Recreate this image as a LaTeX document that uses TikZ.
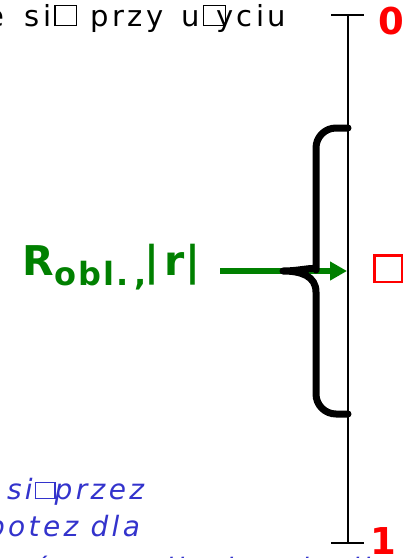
\documentclass[tikz,border=0pt]{standalone}
\usepackage{fontspec}
\setmainfont{DejaVu Sans}
\newfontfamily\spfont[LetterSpace=12]{DejaVu Sans}
\newfontfamily\gfont[LetterSpace=6]{DejaVu Sans}
\usetikzlibrary{arrows.meta}
\definecolor{gr}{RGB}{0,128,0}
\definecolor{bl}{RGB}{51,51,204}
\definecolor{rd}{RGB}{255,0,0}
% missing-glyph box: width, height, rule, advance
\newcommand\mg[4]{\rlap{\vrule width #3 height #2\kern\dimexpr#1-#3-#3\relax\vrule width #3 height #2}\rlap{\vrule width #1 height #2 depth -\dimexpr#2-#3\relax}\rlap{\vrule width #1 height #3}\kern#4\relax}
\tikzset{
  txt/.style={inner sep=0pt,outer sep=0pt},
  toptext/.style={txt,font=\spfont\fontsize{29}{32}\selectfont},
  bluetext/.style={txt,text=bl,font=\spfont\itshape\fontsize{28}{32}\selectfont},
  endlabel/.style={txt,text=rd,font=\bfseries\fontsize{37}{40}\selectfont},
  axisline/.style={line width=1.3pt,black},
  bracepath/.style={line width=7pt,black,line cap=round,line join=round},
  garrow/.style={draw=gr,line width=6pt,-{Triangle[length=17pt,width=18pt]}}
}
\begin{document}
\begin{tikzpicture}[x=1pt,y=-1pt]
\useasboundingbox (0,0) rectangle (409,558);
\clip (0,0) rectangle (409,558);
% top text
\node[toptext,anchor=base west] (top) at (-13,26) {e\hspace{20pt}si\kern3pt\mg{23pt}{21pt}{1.3pt}{15pt}\hspace{21pt}przy\hspace{18pt}u\kern3pt\mg{23pt}{21pt}{1.3pt}{13pt}yciu};
% blue text
\node[bluetext,anchor=base west] (b1) at (7,499) {si\kern2pt\mg{21pt}{17pt}{1.3pt}{20pt}przez};
\node[bluetext,anchor=base east] (b2) at (140,536) {hipotez dla};
\node[bluetext,anchor=base west] (b3) at (-34,578) {wsp\'o\mg{18pt}{17pt}{1.3pt}{18pt}czynnika korelacji};
% axis
\coordinate (a0) at (348,15);
\coordinate (a1) at (348,543);
\coordinate (t0l) at (331,15);
\coordinate (t0r) at (364,15);
\coordinate (t1l) at (331,543);
\coordinate (t1r) at (364,543);
\draw[axisline] (a0) -- (a1);
\draw[axisline] (t0l) -- (t0r);
\draw[axisline] (t1l) -- (t1r);
\node[endlabel] (zero) at (391,21) {0};
\node[endlabel] (one) at (383,541) {1};
% green label and arrow
\node[txt,anchor=base west,text=gr,font=\bfseries\fontsize{41}{41}\selectfont] (lab) at (23,275) {R\raisebox{-10pt}{\gfont\bfseries\fontsize{32}{32}\selectfont obl.\hspace{6pt},}\hspace{-2pt}|\hspace{5pt}r\hspace{1pt}|};
\coordinate (astart) at (220,271);
\coordinate (atip) at (347,271);
\draw[garrow] (astart) -- (atip);
% brace
\draw[bracepath] (348,128) [rounded corners=20pt] -- (316,128) -- (316,250) [sharp corners] .. controls (316,266) and (301,271) .. (283,271) .. controls (301,271) and (316,276) .. (316,292) [rounded corners=20pt] -- (316,414) -- (348,414);
% red missing glyph
\node[txt,text=rd] (sym) at (388,268.5) {\mg{30pt}{29pt}{2.5pt}{30pt}};
\end{tikzpicture}
\end{document}
